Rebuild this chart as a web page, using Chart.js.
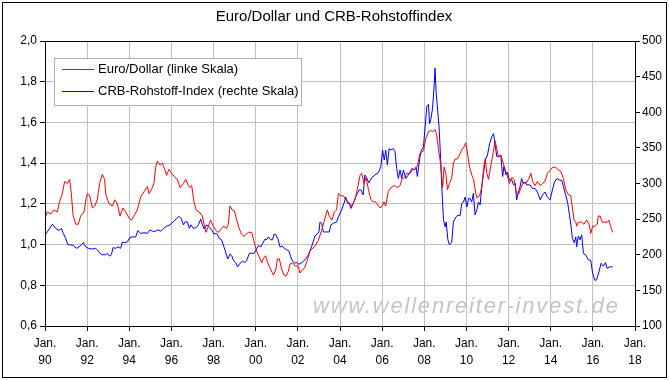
<!DOCTYPE html>
<html>
<head>
<meta charset="utf-8">
<script src="https://cdn.jsdelivr.net/npm/chart.js@4.4.1/dist/chart.umd.min.js"></script>
<style>
  body { margin: 0; background: #fff; }
  #wrap { width: 669px; height: 380px; }
</style>
</head>
<body>
<div id="wrap"><canvas id="myChart" width="669" height="380"></canvas></div>
<script>
// Euro/Dollar (left axis), decimal years
var eurYears = [1990.00,1990.11,1990.27,1990.43,1990.59,1990.66,1990.82,1990.93,1991.06,1991.17,1991.25,1991.33,1991.46,1991.58,1991.69,1991.85,1991.96,1992.01,1992.12,1992.25,1992.36,1992.48,1992.59,1992.72,1992.83,1992.88,1993.04,1993.20,1993.31,1993.43,1993.56,1993.70,1993.83,1993.99,1994.10,1994.22,1994.38,1994.54,1994.70,1994.86,1994.94,1995.05,1995.17,1995.25,1995.33,1995.46,1995.57,1995.68,1995.77,1995.88,1996.01,1996.17,1996.28,1996.41,1996.57,1996.68,1996.80,1996.88,1996.96,1997.07,1997.17,1997.36,1997.47,1997.55,1997.64,1997.75,1997.86,1997.99,1998.10,1998.23,1998.38,1998.46,1998.62,1998.70,1998.78,1998.89,1998.99,1999.10,1999.21,1999.33,1999.44,1999.54,1999.65,1999.81,1999.92,2000.05,2000.17,2000.28,2000.36,2000.47,2000.57,2000.68,2000.84,2000.96,2001.03,2001.12,2001.23,2001.34,2001.44,2001.55,2001.63,2001.75,2001.87,2002.02,2002.10,2002.34,2002.50,2002.57,2002.80,2002.97,2003.13,2003.29,2003.40,2003.49,2003.61,2003.73,2003.84,2003.92,2004.03,2004.16,2004.27,2004.40,2004.52,2004.60,2004.71,2004.82,2004.95,2005.03,2005.14,2005.24,2005.35,2005.47,2005.58,2005.69,2005.79,2005.90,2006.01,2006.09,2006.17,2006.29,2006.42,2006.58,2006.74,2006.85,2006.93,2007.06,2007.17,2007.33,2007.44,2007.56,2007.67,2007.80,2007.96,2008.07,2008.20,2008.31,2008.40,2008.51,2008.59,2008.67,2008.75,2008.83,2008.87,2008.94,2009.02,2009.10,2009.19,2009.30,2009.38,2009.46,2009.57,2009.67,2009.78,2009.89,2009.97,2010.05,2010.15,2010.26,2010.34,2010.41,2010.49,2010.62,2010.73,2010.81,2010.89,2010.97,2011.05,2011.13,2011.25,2011.36,2011.44,2011.52,2011.63,2011.72,2011.83,2011.94,2012.04,2012.15,2012.26,2012.38,2012.49,2012.59,2012.70,2012.82,2012.94,2013.06,2013.14,2013.26,2013.37,2013.50,2013.61,2013.73,2013.84,2013.97,2014.10,2014.24,2014.37,2014.48,2014.60,2014.71,2014.84,2014.95,2015.04,2015.11,2015.19,2015.23,2015.31,2015.39,2015.47,2015.58,2015.71,2015.82,2015.90,2015.99,2016.10,2016.21,2016.26,2016.34,2016.45,2016.56,2016.68,2016.76,2016.84,2016.94];
var eurValues = [1.13,1.16,1.15,1.17,1.16,1.20,1.25,1.31,1.30,1.32,1.25,1.145,1.10,1.10,1.14,1.16,1.23,1.25,1.24,1.18,1.19,1.22,1.30,1.345,1.32,1.25,1.20,1.19,1.22,1.20,1.14,1.18,1.16,1.13,1.12,1.14,1.17,1.235,1.26,1.285,1.25,1.27,1.30,1.38,1.41,1.39,1.40,1.37,1.34,1.37,1.35,1.33,1.32,1.28,1.30,1.32,1.29,1.28,1.29,1.21,1.17,1.155,1.14,1.10,1.06,1.09,1.12,1.09,1.07,1.06,1.08,1.09,1.08,1.10,1.19,1.17,1.165,1.12,1.08,1.05,1.04,1.05,1.06,1.06,1.015,0.965,0.94,0.91,0.93,0.945,0.91,0.885,0.85,0.88,0.93,0.93,0.88,0.85,0.845,0.87,0.905,0.91,0.895,0.895,0.86,0.89,0.94,0.97,0.99,1.02,1.07,1.13,1.17,1.14,1.12,1.16,1.17,1.25,1.24,1.24,1.22,1.21,1.19,1.20,1.22,1.27,1.34,1.35,1.30,1.33,1.27,1.22,1.21,1.21,1.195,1.18,1.19,1.21,1.19,1.26,1.28,1.29,1.28,1.29,1.32,1.33,1.35,1.35,1.37,1.37,1.385,1.45,1.46,1.52,1.555,1.56,1.555,1.565,1.54,1.47,1.415,1.33,1.28,1.38,1.35,1.27,1.30,1.325,1.40,1.42,1.42,1.44,1.465,1.48,1.50,1.45,1.38,1.34,1.32,1.27,1.23,1.24,1.28,1.37,1.42,1.35,1.32,1.37,1.44,1.51,1.47,1.43,1.44,1.41,1.37,1.34,1.30,1.33,1.32,1.25,1.25,1.28,1.305,1.30,1.32,1.35,1.31,1.29,1.31,1.29,1.30,1.31,1.35,1.365,1.38,1.38,1.365,1.36,1.325,1.27,1.245,1.24,1.17,1.12,1.11,1.09,1.11,1.11,1.11,1.10,1.12,1.10,1.055,1.09,1.09,1.10,1.14,1.14,1.11,1.11,1.11,1.12,1.09,1.06];

// CRB index (right axis)
var crbYears = [1990.00,1990.11,1990.35,1990.51,1990.66,1990.78,1990.87,1990.98,1991.09,1991.22,1991.34,1991.49,1991.61,1991.72,1991.82,1991.93,1992.06,1992.25,1992.40,1992.48,1992.61,1992.72,1992.88,1992.96,1993.07,1993.15,1993.23,1993.35,1993.46,1993.59,1993.67,1993.78,1993.91,1994.02,1994.14,1994.30,1994.41,1994.54,1994.70,1994.86,1994.98,1995.09,1995.25,1995.36,1995.49,1995.62,1995.77,1995.93,1996.12,1996.25,1996.36,1996.46,1996.57,1996.65,1996.76,1996.85,1996.93,1997.04,1997.17,1997.28,1997.39,1997.47,1997.56,1997.67,1997.80,1997.91,1998.02,1998.15,1998.27,1998.38,1998.46,1998.57,1998.67,1998.78,1998.86,1998.94,1999.05,1999.14,1999.25,1999.38,1999.49,1999.57,1999.70,1999.81,1999.92,2000.02,2000.13,2000.24,2000.33,2000.44,2000.52,2000.60,2000.71,2000.80,2000.87,2000.96,2001.07,2001.15,2001.26,2001.36,2001.47,2001.58,2001.66,2001.75,2001.87,2001.94,2002.02,2002.10,2002.34,2002.50,2002.66,2002.81,2003.00,2003.05,2003.13,2003.21,2003.37,2003.49,2003.57,2003.68,2003.84,2003.92,2004.08,2004.21,2004.27,2004.36,2004.44,2004.52,2004.63,2004.74,2004.83,2004.91,2004.99,2005.10,2005.18,2005.26,2005.37,2005.50,2005.66,2005.82,2005.94,2006.02,2006.10,2006.17,2006.25,2006.33,2006.42,2006.53,2006.61,2006.69,2006.77,2006.85,2006.93,2007.01,2007.13,2007.24,2007.33,2007.41,2007.53,2007.61,2007.67,2007.80,2007.86,2007.96,2008.04,2008.12,2008.20,2008.25,2008.31,2008.39,2008.47,2008.51,2008.56,2008.62,2008.70,2008.78,2008.83,2008.91,2008.99,2009.04,2009.12,2009.19,2009.30,2009.38,2009.50,2009.57,2009.70,2009.78,2009.86,2009.94,2010.02,2010.10,2010.17,2010.25,2010.33,2010.41,2010.49,2010.57,2010.65,2010.73,2010.81,2010.89,2011.00,2011.10,2011.21,2011.29,2011.36,2011.44,2011.55,2011.63,2011.72,2011.78,2011.88,2011.94,2012.04,2012.15,2012.24,2012.32,2012.38,2012.47,2012.54,2012.62,2012.70,2012.78,2012.86,2013.02,2013.14,2013.26,2013.37,2013.50,2013.61,2013.73,2013.84,2013.97,2014.08,2014.18,2014.29,2014.40,2014.53,2014.60,2014.71,2014.81,2014.89,2014.97,2015.03,2015.11,2015.19,2015.23,2015.31,2015.39,2015.47,2015.55,2015.66,2015.78,2015.90,2015.99,2016.10,2016.18,2016.29,2016.39,2016.50,2016.60,2016.68,2016.80,2016.94];
var crbValues = [228,232,243,237,234,237,230,223,214,214,213,209,211,214,217,211,209,208,209,207,202,200,200,202,198,200,210,209,211,209,218,217,218,224,225,225,234,230,231,230,235,233,233,235,233,237,240,242,247,251,254,251,242,246,246,237,242,237,238,242,250,242,236,242,239,235,229,230,223,221,214,204,194,201,199,192,189,183,188,191,189,192,202,202,202,207,213,211,216,222,221,225,221,221,229,228,221,211,212,209,207,205,197,191,188,189,187,187,193,200,212,226,232,246,244,232,232,232,242,244,246,253,263,274,281,272,272,265,272,281,286,291,291,284,312,308,301,308,312,315,324,347,333,347,326,349,347,349,345,321,307,319,307,319,307,312,316,321,319,323,310,338,347,351,380,408,411,384,390,405,438,462,429,408,380,333,296,249,239,246,221,214,217,246,253,255,255,272,274,281,267,279,279,274,286,256,263,274,270,296,314,333,340,356,366,370,354,338,338,340,310,324,312,316,305,305,298,300,277,288,295,307,300,302,298,298,293,293,288,277,284,288,281,277,291,302,307,305,304,296,284,272,256,239,223,217,225,211,226,221,228,202,200,193,192,174,164,165,176,188,184,189,181,183,183];

var xTickLabels = ["90","92","94","96","98","00","02","04","06","08","10","12","14","16","18"];
var leftTickLabels = ["0,6","0,8","1,0","1,2","1,4","1,6","1,8","2,0"];
var rightTickLabels = ["100","150","200","250","300","350","400","450","500"];

var seriesNames = ["Euro/Dollar (linke Skala)", "CRB-Rohstoff-Index (rechte Skala)"];
var titleText = "Euro/Dollar und CRB-Rohstoffindex";
var watermark = "www.wellenreiter-invest.de";

function toPoints(xs, ys) {
    var pts = [];
    for (let i = 0; i < xs.length; i++) {
        pts.push({ x: xs[i], y: ys[i] });
    }
    return pts;
}

var fontFam = "'Liberation Sans', Arial, sans-serif";

var extras = {
    id: "extras",
    beforeDraw: function(chart) {
        var ctx = chart.ctx;
        ctx.save();
        ctx.fillStyle = "#fff";
        ctx.fillRect(0, 0, chart.width, chart.height);
        ctx.restore();
    },
    beforeDatasetsDraw: function(chart) {
        var ctx = chart.ctx;
        ctx.save();
        ctx.font = "italic 22px " + fontFam;
        ctx.letterSpacing = "1.8px";
        ctx.fillStyle = "#c4c4c4";
        ctx.textAlign = "left";
        ctx.textBaseline = "alphabetic";
        ctx.fillText(watermark, 313, 313);
        ctx.restore();
    },
    afterDraw: function(chart) {
        var ctx = chart.ctx;
        var a = chart.chartArea;
        ctx.save();
        // plot frame
        ctx.strokeStyle = "#000";
        ctx.lineWidth = 1;
        ctx.strokeRect(Math.round(a.left) + 0.5, Math.round(a.top) + 0.5, Math.round(a.right - a.left), Math.round(a.bottom - a.top));
        // outer frame
        ctx.strokeRect(2.5, 2.5, chart.width - 5, chart.height - 5);
        // title
        ctx.fillStyle = "#000";
        ctx.font = "15px " + fontFam;
        ctx.textAlign = "center";
        ctx.textBaseline = "middle";
        ctx.fillText(titleText, 334, 17);
        // legend
        ctx.fillStyle = "#fff";
        ctx.fillRect(55, 58, 247, 47);
        ctx.strokeStyle = "#b0b0b0";
        ctx.strokeRect(54.5, 58.5, 247, 47);
        ctx.font = "13px " + fontFam;
        ctx.textAlign = "left";
        var ds = chart.data.datasets;
        for (let i = 0; i < ds.length; i++) {
            var y = 69.5 + i * 22;
            ctx.strokeStyle = ds[i].borderColor;
            ctx.beginPath();
            ctx.moveTo(62, y);
            ctx.lineTo(94, y);
            ctx.stroke();
            ctx.fillStyle = "#000";
            ctx.fillText(ds[i].label, 98, y);
        }
        ctx.restore();
    }
};

new Chart("myChart", {
    type: "line",
    data: {
        datasets: [{
            label: seriesNames[0],
            data: toPoints(eurYears, eurValues),
            borderColor: "#ff0000",
            borderWidth: 1,
            pointRadius: 0,
            tension: 0,
            yAxisID: "y"
        }, {
            label: seriesNames[1],
            data: toPoints(crbYears, crbValues),
            borderColor: "#0000ff",
            borderWidth: 1,
            pointRadius: 0,
            tension: 0,
            yAxisID: "y2"
        }]
    },
    options: {
        responsive: false,
        animation: false,
        layout: { padding: { top: 41, left: 0, right: 0, bottom: 0 } },
        plugins: {
            legend: { display: false },
            title: { display: false },
            tooltip: { enabled: false }
        },
        scales: {
            x: {
                type: "linear",
                min: 1990,
                max: 2018,
                grid: { color: "#c0c0c0", tickColor: "#000", tickLength: 5 },
                border: { color: "#000" },
                ticks: {
                    stepSize: 2,
                    maxRotation: 0,
                    autoSkip: false,
                    padding: 4,
                    color: "#000",
                    font: { family: fontFam, size: 12, lineHeight: 1.45 },
                    callback: function(v, i) { return ["Jan.", xTickLabels[i]]; }
                },
                afterFit: function(s) { s.height = 54; }
            },
            y: {
                position: "left",
                min: 0.6,
                max: 2.0,
                grid: { color: "#c0c0c0", tickColor: "#000", tickLength: 5 },
                border: { color: "#000" },
                ticks: {
                    stepSize: 0.2,
                    padding: 3,
                    color: "#000",
                    font: { family: fontFam, size: 12 },
                    callback: function(v, i) { return leftTickLabels[i]; }
                },
                afterFit: function(s) { s.width = 45; }
            },
            y2: {
                position: "right",
                min: 100,
                max: 500,
                grid: { drawOnChartArea: false, tickColor: "#000", tickLength: 5 },
                border: { color: "#000" },
                ticks: {
                    stepSize: 50,
                    padding: 2,
                    color: "#000",
                    font: { family: fontFam, size: 12 },
                    callback: function(v, i) { return rightTickLabels[i]; }
                },
                afterFit: function(s) { s.width = 34; }
            }
        }
    },
    plugins: [extras]
});
</script>
</body>
</html>
